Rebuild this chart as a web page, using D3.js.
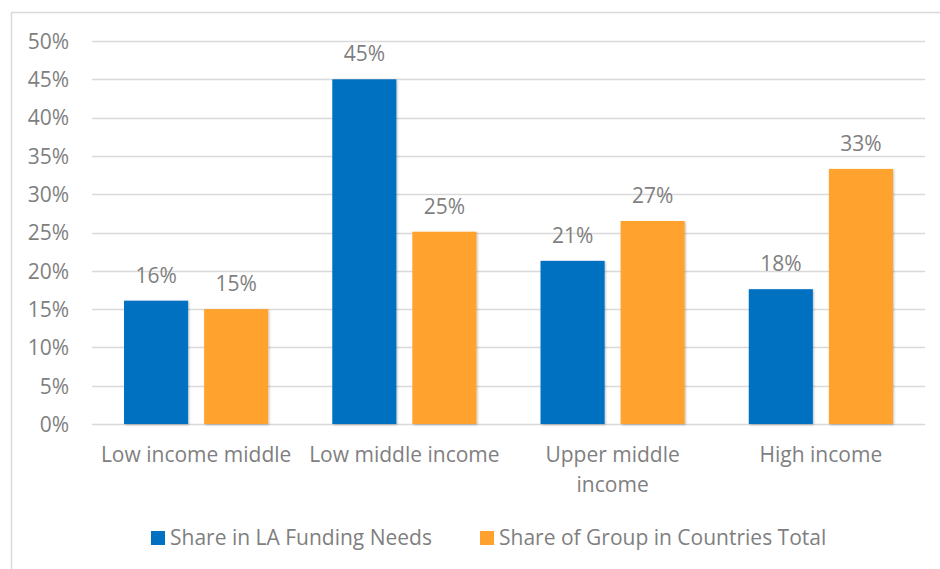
<!DOCTYPE html>
<html>
<head>
<meta charset="utf-8">
<title>Funding needs by income group</title>
<style>
  body { margin: 0; background: #fff; }
  text { font-family: "Open Sans", "Noto Sans", sans-serif; fill: #7f7f7f; }
</style>
</head>
<body>
<svg id="chart" width="940" height="569"></svg>
<script src="https://d3js.org/d3.v7.min.js"></script>
<script>
// data
const categories = ["Low income middle", "Low middle income", "Upper middle income", "High income"]
const seriesNames = ["Share in LA Funding Needs", "Share of Group in Countries Total"]
const laFunding = [0.161, 0.45, 0.213, 0.176]
const groupShare = [0.15, 0.251, 0.265, 0.333]
const yTicks = [0, 0.05, 0.1, 0.15, 0.2, 0.25, 0.3, 0.35, 0.4, 0.45, 0.5]
const colors = ["#0070c0", "#ffa22d"]

const fontSize = "21px"
const svg = d3.select("#chart")

// outer frame (right / bottom edges fall off the picture)
svg.append("rect")
  .attr("x", 11.5).attr("y", 12.5)
  .attr("width", 960).attr("height", 600)
  .attr("fill", "none").attr("stroke", "#d9d9d9").attr("stroke-width", 1.5)

const defs = svg.append("defs")
const shadow = defs.append("filter").attr("id", "shadow")
  .attr("x", "-10%").attr("y", "-10%").attr("width", "130%").attr("height", "130%")
shadow.append("feDropShadow")
  .attr("dx", 1).attr("dy", 1).attr("stdDeviation", 1.2)
  .attr("flood-color", "#000").attr("flood-opacity", 0.25)

const plotLeft = 92, plotRight = 925, plotTop = 41, plotBottom = 424

const y = d3.scaleLinear().domain([0, 0.5]).range([plotBottom, plotTop])
const x0 = d3.scaleBand().domain(categories).range([plotLeft, plotRight])
const x1 = d3.scaleBand().domain([0, 1]).range([0, x0.bandwidth()])
  .paddingInner(0.2).paddingOuter(0.4)

// gridlines
svg.append("g")
  .selectAll("line")
  .data(yTicks)
  .join("line")
    .attr("x1", plotLeft).attr("x2", plotRight)
    .attr("y1", d => Math.round(y(d)) + 0.5)
    .attr("y2", d => Math.round(y(d)) + 0.5)
    .attr("stroke", "#d9d9d9").attr("stroke-width", 1.5)

// y axis labels
const yAxis = svg.append("g")
  .attr("transform", `translate(${plotLeft - 23},0)`)
  .call(d3.axisLeft(y).tickValues(yTicks).tickFormat(d3.format(".0%")).tickSize(0))
yAxis.select(".domain").remove()
yAxis.selectAll("text")
  .attr("x", 0).attr("dy", "0.35em")
  .style("font-size", fontSize).attr("fill", "#7f7f7f")
  .style("font-family", "'Open Sans', sans-serif")

// bars
const rows = categories.map((c, i) => ({cat: c, vals: [laFunding[i], groupShare[i]]}))

const group = svg.append("g").selectAll("g")
  .data(rows)
  .join("g")
    .attr("transform", d => `translate(${x0(d.cat)},0)`)

group.selectAll("rect")
  .data(d => d.vals.map((v, k) => ({k, v})))
  .join("rect")
    .attr("x", d => x1(d.k))
    .attr("y", d => y(d.v))
    .attr("width", x1.bandwidth())
    .attr("height", d => plotBottom - y(d.v))
    .attr("fill", d => colors[d.k])
    .attr("filter", "url(#shadow)")

group.selectAll("text.val")
  .data(d => d.vals.map((v, k) => ({k, v})))
  .join("text")
    .attr("class", "val")
    .attr("x", d => x1(d.k) + x1.bandwidth() / 2)
    .attr("y", d => y(d.v) - 18)
    .attr("text-anchor", "middle")
    .style("font-size", fontSize)
    .text(d => d3.format(".0%")(d.v))

// category labels, wrapped when too wide
const maxW = x0.bandwidth() - 6
svg.append("g").selectAll("text")
  .data(categories)
  .join("text")
    .attr("x", d => x0(d) + x0.bandwidth() / 2)
    .attr("y", 462)
    .attr("text-anchor", "middle")
    .style("font-size", fontSize)
    .each(function(d) {
      const t = d3.select(this)
      const words = d.split(" ")
      let line = []
      let tspan = t.append("tspan").attr("x", t.attr("x")).attr("dy", 0)
      words.forEach(w => {
        line.push(w)
        tspan.text(line.join(" "))
        if (tspan.node().getComputedTextLength() > maxW && line.length > 1) {
          line.pop()
          tspan.text(line.join(" "))
          line = [w]
          tspan = t.append("tspan").attr("x", t.attr("x")).attr("dy", 30).text(w)
        }
      })
    })

// legend
const legendX = [151, 480]
const legend = svg.append("g").selectAll("g")
  .data(seriesNames)
  .join("g")
    .attr("transform", (d, i) => `translate(${legendX[i]},531)`)
legend.append("rect")
  .attr("width", 14).attr("height", 14)
  .attr("fill", (d, i) => colors[i])
legend.append("text")
  .attr("x", 19).attr("y", 14)
  .style("font-size", fontSize)
  .text(d => d)
</script>
</body>
</html>
